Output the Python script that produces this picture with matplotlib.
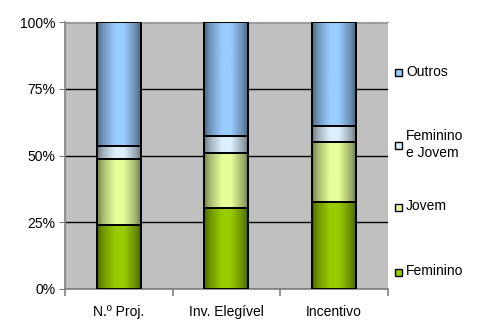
import numpy as np
import matplotlib
matplotlib.use('Agg')
import matplotlib.pyplot as plt
from matplotlib.colors import to_rgb
from matplotlib.patches import Rectangle

plt.rcParams['font.family'] = ['Liberation Sans', 'DejaVu Sans']

# data (percent of each category)
categories = ['N.º Proj.', 'Inv. Elegível', 'Incentivo']
series = ['Feminino', 'Jovem', 'Feminino\ne Jovem', 'Outros']
feminino = [23.9, 30.2, 32.5]
jovem = [24.8, 20.9, 22.5]
fem_jovem = [4.9, 6.2, 6.2]
outros = [46.4, 42.7, 38.8]
values = [feminino, jovem, fem_jovem, outros]
colors = ['#99CC00', '#E6FF99', '#DDF0FF', '#99CCFF']
yticks = [0, 25, 50, 75, 100]

fig = plt.figure(figsize=(5.03, 3.25), dpi=100)
ax = fig.add_axes([0.129, 0.112, 0.642, 0.819])
ax.set_facecolor('#C0C0C0')

# horizontal shading profile to mimic cylinder-like bars
tp = [0, 0.12, 0.4, 0.6, 0.88, 1]
fp = [0.5, 0.72, 1.0, 1.0, 0.68, 0.45]
prof = np.interp(np.linspace(0, 1, 64), tp, fp)

width = 0.41
x = np.arange(len(categories))
bottom = np.zeros(len(categories))
for vals, col in zip(values, colors):
    rgb = np.array(to_rgb(col))
    img = np.clip(prof[None, :, None] * rgb[None, None, :], 0, 1)
    for xi, b, v in zip(x, bottom, vals):
        ax.imshow(img, extent=(xi - width / 2, xi + width / 2, b, b + v),
                  aspect='auto', zorder=2, interpolation='bilinear')
        ax.add_patch(Rectangle((xi - width / 2, b), width, v, fill=False,
                               edgecolor='black', linewidth=1.4, zorder=3))
    bottom += np.array(vals)

ax.set_xlim(-0.5, len(categories) - 0.5)
ax.set_ylim(0, 100)
ax.set_yticks(yticks)
ax.set_yticklabels([f'{t}%' for t in yticks], fontsize=10)
ax.yaxis.grid(True, color='black', linewidth=1)
ax.set_axisbelow(True)
ax.tick_params(axis='y', length=4, color='#808080', pad=3)

ax.set_xticks(x)
ax.set_xticklabels(categories, fontsize=10)
ax.set_xticks(np.arange(len(categories) + 1) - 0.5, minor=True)
ax.tick_params(axis='x', which='major', length=0, pad=12)
ax.tick_params(axis='x', which='minor', length=5, color='#808080', width=1.2)

for s in ['left', 'bottom']:
    ax.spines[s].set_color('#808080')
    ax.spines[s].set_linewidth(1.2)
ax.spines['top'].set_color('#A0A0A0')
ax.spines['right'].set_visible(False)

# legend drawn by hand to keep the uneven spacing
leg_y = [0.78, 0.555, 0.365, 0.165]  # figure coords for Outros..Feminino
for lab, col, yy in zip(series[::-1], colors[::-1], leg_y):
    fig.patches.append(Rectangle((0.786, yy - 0.014), 0.014, 0.022,
                                 transform=fig.transFigure, facecolor=col,
                                 edgecolor='black', linewidth=1))
    fig.text(0.807, yy, lab, fontsize=10, va='center', ha='left',
             linespacing=1.25)

fig.savefig('out.png', dpi=100)
